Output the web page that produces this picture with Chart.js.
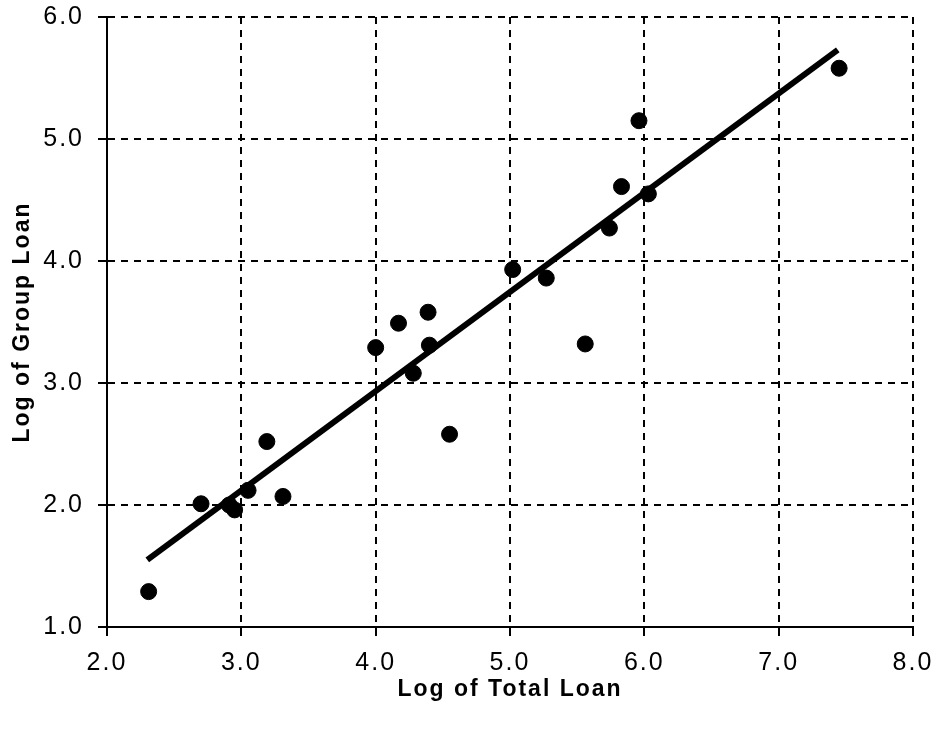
<!DOCTYPE html>
<html>
<head>
<meta charset="utf-8">
<script src="https://cdn.jsdelivr.net/npm/chart.js@4/dist/chart.umd.min.js"></script>
<style>
  html, body { margin: 0; padding: 0; background: #fff; }
  #wrap { width: 939px; height: 730px; }
</style>
</head>
<body>
<div id="wrap"><canvas id="chart" width="939" height="730"></canvas></div>
<script>
// ── Data ─────────────────────────────────────────────────────────────────────
const totalLoan = [2.31, 2.70, 2.91, 2.95, 3.05, 3.19, 3.31, 4.00, 4.17, 4.39, 4.40, 4.28, 4.55, 5.02, 5.27, 5.56, 5.74, 5.83, 6.03, 5.96, 7.45];
const groupLoan = [1.29, 2.01, 2.00, 1.96, 2.12, 2.52, 2.07, 3.29, 3.49, 3.58, 3.31, 3.08, 2.58, 3.93, 3.86, 3.32, 4.27, 4.61, 4.55, 5.15, 5.58];

const fitX = [2.30, 7.44];
const fitY = [1.55, 5.73];

const xTicks = [2, 3, 4, 5, 6, 7, 8];
const yTicks = [1, 2, 3, 4, 5, 6];

// ── Helpers ──────────────────────────────────────────────────────────────────
const pts = (xs, ys) => xs.map((x, i) => ({ x, y: ys[i] }));
const fmt = v => Number(v).toFixed(1);

const spacing = {
  id: 'spacing',
  beforeDraw(chart) { chart.ctx.letterSpacing = '2px'; },
};

const GRID = {
  color: '#000',
  lineWidth: 2,
  tickLength: 9,
  tickColor: '#000',
  tickWidth: 2,
};

// ── Chart ────────────────────────────────────────────────────────────────────
new Chart(document.getElementById('chart').getContext('2d'), {
  data: {
    datasets: [
      {
        type: 'scatter',
        data: pts(totalLoan, groupLoan),
        backgroundColor: '#000',
        borderColor: '#000',
        pointRadius: 8,
        pointHoverRadius: 8,
      },
      {
        type: 'line',
        data: pts(fitX, fitY),
        borderColor: '#000',
        borderWidth: 6,
        pointRadius: 0,
        fill: false,
      },
    ],
  },
  options: {
    responsive: false,
    animation: false,
    events: [],
    layout: { padding: { top: 17, right: 26, bottom: 0, left: 0 } },
    plugins: { legend: { display: false }, tooltip: { enabled: false } },
    scales: {
      x: {
        type: 'linear',
        min: 2, max: 8,
        afterBuildTicks: s => { s.ticks = xTicks.map(v => ({ value: v })); },
        afterFit: s => { s.height = 103; s.paddingLeft = 0; s.paddingRight = 0; },
        ticks: {
          color: '#000',
          padding: 12,
          font: { family: 'Liberation Sans, Arial, sans-serif', size: 25 },
          callback: fmt,
        },
        grid: GRID,
        border: { color: '#000', width: 2, dash: [7, 6] },
        title: {
          display: true,
          text: 'Log of Total Loan',
          color: '#000',
          font: { family: 'Liberation Sans, Arial, sans-serif', size: 23, weight: 'bold' },
          padding: { top: 0, bottom: 27 },
        },
      },
      y: {
        type: 'linear',
        min: 1, max: 6,
        afterBuildTicks: s => { s.ticks = yTicks.map(v => ({ value: v })); },
        afterFit: s => { s.width = 107; s.paddingTop = 0; s.paddingBottom = 0; },
        ticks: {
          color: '#000',
          padding: 14,
          font: { family: 'Liberation Sans, Arial, sans-serif', size: 25 },
          callback: fmt,
        },
        grid: GRID,
        border: { color: '#000', width: 2, dash: [7, 6] },
        title: {
          display: true,
          text: 'Log of Group Loan',
          color: '#000',
          font: { family: 'Liberation Sans, Arial, sans-serif', size: 23, weight: 'bold' },
          padding: { top: 9, bottom: 0 },
        },
      },
    },
  },
  plugins: [spacing],
});
</script>
</body>
</html>
